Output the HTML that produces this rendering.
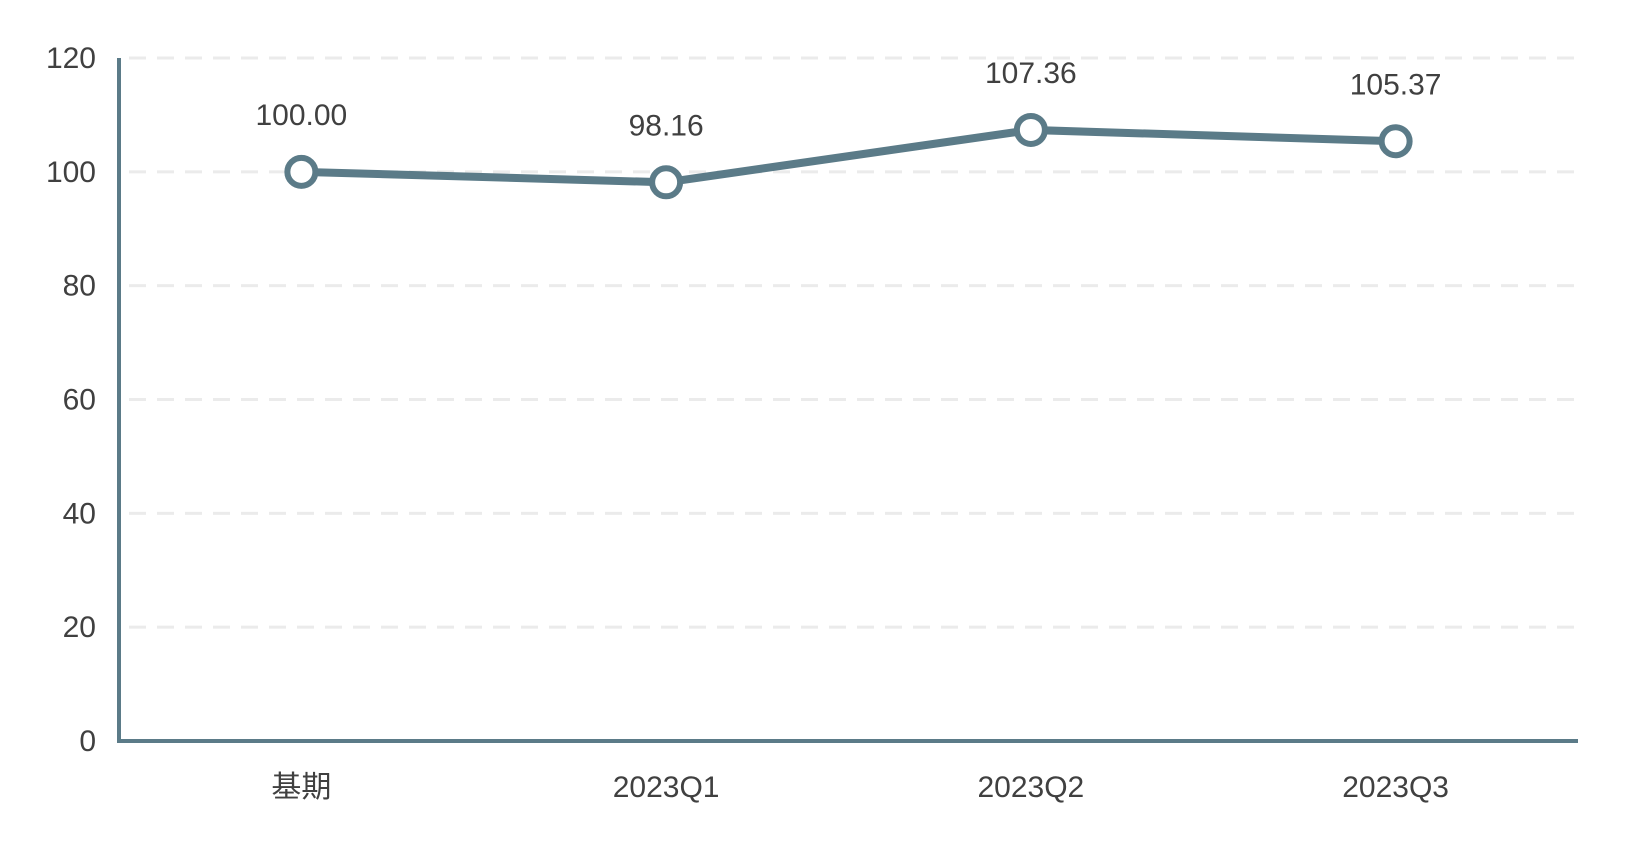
<!DOCTYPE html>
<html><head><meta charset="utf-8"><style>
body{margin:0;background:#fff;}
svg text{font-family:"Liberation Sans","Noto Sans CJK SC",sans-serif;fill:#404040;}
</style></head><body>
<svg id="chart" width="1632" height="841" xmlns="http://www.w3.org/2000/svg">
<g id="grid"></g>
<g id="yt"></g>
<g id="xt"></g>
<g id="series"></g>
<line x1="119" y1="58" x2="119" y2="743" stroke="#5b7b88" stroke-width="4"/>
<line x1="117" y1="741" x2="1578" y2="741" stroke="#5b7b88" stroke-width="4"/>
</svg>
<script>
const categories=["基期","2023Q1","2023Q2","2023Q3"];
const values=[100.00,98.16,107.36,105.37];
const yTicks=[0,20,40,60,80,100,120];
const X0=119,X1=1578,Y0=741,Y1=58,YMAX=120;
const NS="http://www.w3.org/2000/svg";
const xs=i=>X0+(X1-X0)/categories.length*(i+0.5);
const ys=v=>Y0-(Y0-Y1)*v/YMAX;
function mk(t,a,p){const e=document.createElementNS(NS,t);for(const k in a)e.setAttribute(k,a[k]);p.appendChild(e);return e;}
const grid=document.getElementById('grid'),yt=document.getElementById('yt'),xt=document.getElementById('xt'),se=document.getElementById('series');
yTicks.forEach(v=>{
  if(v>0){const g=mk('line',{x1:X0+10,x2:X1,y1:ys(v),y2:ys(v),stroke:'#ebebeb','stroke-width':3,'stroke-dasharray':'17 11'},grid);
  
  }
  const t=mk('text',{x:96,y:ys(v)+10,'text-anchor':'end','font-size':30},yt);t.textContent=v;
  
  
});
categories.forEach((c,i)=>{
  const t=mk('text',{x:xs(i),y:797,'text-anchor':'middle','font-size':30},xt);t.textContent=c;
  
  
});
const pl=mk('polyline',{points:values.map((v,i)=>xs(i)+','+ys(v)).join(' '),fill:'none',stroke:'#5b7b88','stroke-width':8},se);


values.forEach((v,i)=>{
  const c=mk('circle',{cx:xs(i),cy:ys(v),r:14,fill:'#fff',stroke:'#5b7b88','stroke-width':6},se);
  
  
  const t=mk('text',{x:xs(i),y:ys(v)-47,'text-anchor':'middle','font-size':30},se);t.textContent=v.toFixed(2);
  
  
});
</script>
</body></html>
